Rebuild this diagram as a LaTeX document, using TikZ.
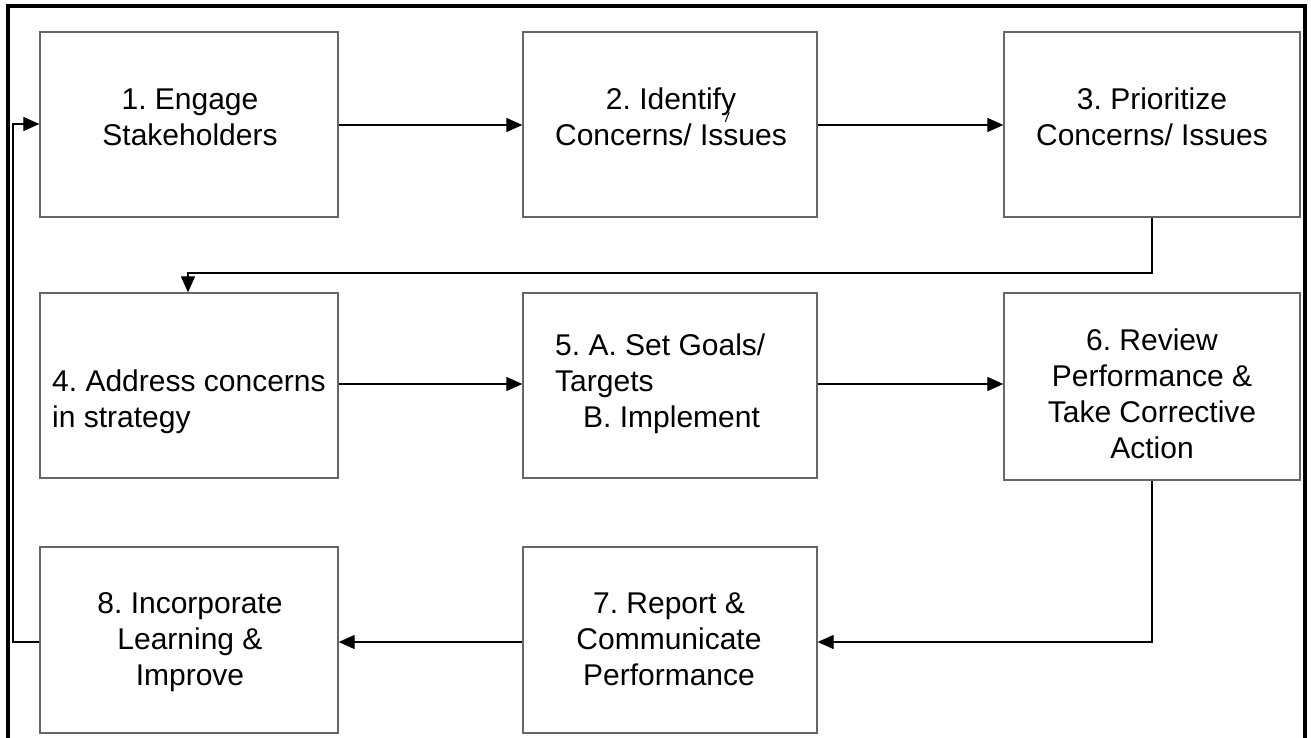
\documentclass[tikz,border=0pt]{standalone}
\usepackage{fontspec}
\setmainfont{Liberation Sans}
\usetikzlibrary{arrows.meta}
\begin{document}
\frenchspacing
\begin{tikzpicture}[x=1pt,y=-1pt,
  stepbox/.style={draw=black!60,line width=1.3pt,minimum width=298pt,minimum height=185pt,inner sep=0pt,fill=white},
  midbox/.style={stepbox,minimum width=294pt},
  txt/.style={inner sep=0pt,align=center,font=\fontsize{30}{36}\selectfont},
  conn/.style={draw=black,line width=1.2pt,-{Triangle[length=16pt,width=14pt]}},
  frame/.style={draw=black,line width=3.5pt}]
\useasboundingbox (0,0) rectangle (1311,738);
% outer frame (open at the bottom)
\coordinate (fbl) at (8,745);
\coordinate (ftl) at (8,6);
\coordinate (ftr) at (1305,6);
\coordinate (fbr) at (1305,745);
\draw[frame] (fbl) -- (ftl) -- (ftr) -- (fbr);
% boxes
\node[stepbox] (b1) at (189,124.5) {};
\node[midbox]  (b2) at (670,124.5) {};
\node[stepbox,minimum width=296pt] (b3) at (1152,124.5) {};
\node[stepbox] (b4) at (189,385.5) {};
\node[midbox]  (b5) at (670,385.5) {};
\node[stepbox,minimum width=296pt,minimum height=187pt] (b6) at (1152,386.5) {};
\node[midbox,minimum height=186pt]  (b7) at (670,640) {};
\node[stepbox,minimum height=186pt] (b8) at (189,640) {};
% texts
\node[txt] (t1) at (190,120.5) {\strut 1. Engage\\\strut Stakeholders};
\node[txt] (t2) at (671,120.5) {\strut 2. Identify\\\strut Concerns/ Issues};
\node[txt] (t3) at (1152,120.5) {\strut 3. Prioritize\\\strut Concerns/ Issues};
\node[txt,align=left,anchor=west] (t4) at (52,402) {\strut 4. Address concerns\\\strut in strategy};
\node[txt,align=left,anchor=west] (t5) at (555,384) {\strut 5. A. Set Goals/\\\strut Targets\\\strut\hspace*{28pt}B. Implement};
\node[txt] (t6) at (1152,397) {\strut 6. Review\\\strut Performance \&\\\strut Take Corrective\\\strut Action};
\node[txt] (t7) at (669,642) {\strut 7. Report \&\\\strut Communicate\\\strut Performance};
\node[txt] (t8) at (190,642) {\strut 8. Incorporate\\\strut Learning \&\\\strut Improve};
% stray mark in box 2
\coordinate (m1) at (729.3,111.7);
\coordinate (m2) at (725.3,122);
\draw[line width=1pt] (m1) -- (m2);
% connectors
\draw[conn] (b1.east |- 0,125) -- (b2.west |- 0,125);
\draw[conn] (b2.east |- 0,125) -- (b3.west |- 0,125);
\coordinate (c3a) at (1152,273);
\coordinate (c3b) at (188,273);
\draw[conn] (b3.south) -- (c3a) -- (c3b) -- (c3b |- b4.north);
\draw[conn] (b4.east |- 0,384) -- (b5.west |- 0,384);
\draw[conn] (b5.east |- 0,384) -- (b6.west |- 0,384);
\coordinate (c6a) at (1152,642);
\draw[conn] (b6.south) -- (c6a) -- (c6a -| b7.east);
\draw[conn] (b7.west |- 0,642) -- (b8.east |- 0,642);
\coordinate (c8a) at (13,642);
\coordinate (c8b) at (13,124);
\draw[conn] (b8.west |- c8a) -- (c8a) -- (c8b) -- (c8b -| b1.west);
\end{tikzpicture}
\end{document}
